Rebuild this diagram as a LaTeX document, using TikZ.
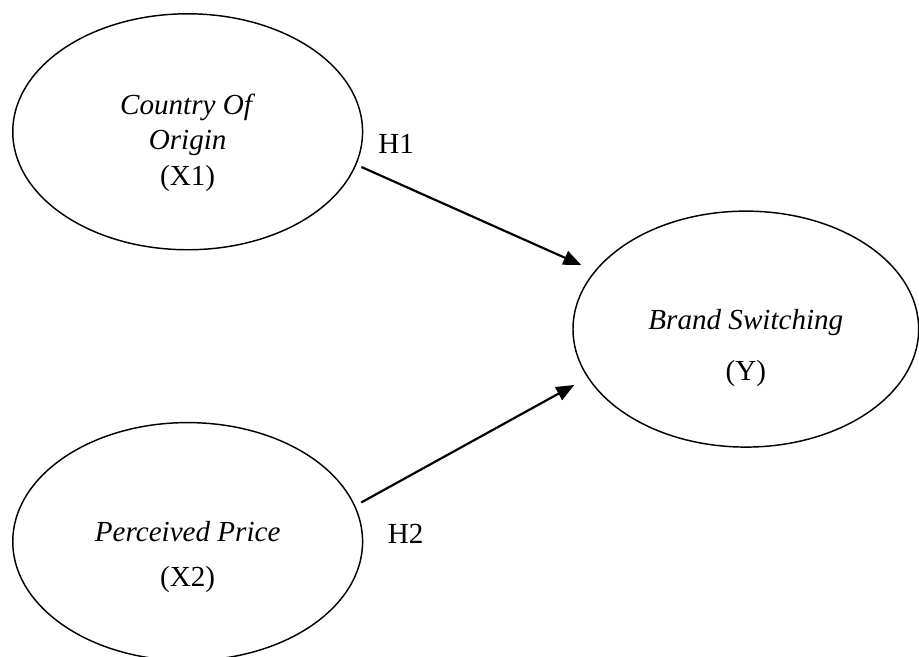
\documentclass[tikz,border=0pt]{standalone}
\usepackage{fontspec}
\setmainfont{Liberation Serif}
\usetikzlibrary{shapes.geometric,arrows.meta}
\begin{document}
\begin{tikzpicture}[var/.style={ellipse,draw,line width=0.6pt,inner sep=0pt,outer sep=0pt},
  txt/.style={align=center,font=\fontsize{12}{14.5}\selectfont},
  hyp/.style={line width=0.9pt,-{Triangle[length=0.26cm,width=0.21cm]}}]
\useasboundingbox (0,0) rectangle (13.32,9.52);
\node [var,minimum width=5.07cm,minimum height=3.42cm] (coo) at (2.72,7.61) {};
\node [var,minimum width=5.01cm,minimum height=3.42cm] (bsw) at (10.81,4.75) {};
\node [var,minimum width=5.07cm,minimum height=3.45cm] (pp) at (2.72,1.67) {};
\node [txt] (cootxt) at ([yshift=-0.16cm]coo.center) {\textit{Country Of}\\\textit{Origin}\\(X1)};
\node [txt] (bswtxt) at ([yshift=-0.27cm]bsw.center) {\textit{Brand Switching}\\[6.5pt](Y)};
\node [txt] (pptxt) at ([yshift=-0.22cm]pp.center) {\textit{Perceived Price}\\[4pt](X2)};
\draw [hyp,shorten <=0.09cm,shorten >=0.22cm] (coo.-11) -- (bsw.159);
\draw [hyp,shorten <=0.11cm,shorten >=0.23cm] (pp.12) -- (bsw.197);
\node [txt] (h1) at (5.74,7.43) {H1}; \node [txt] (h2) at (5.88,1.78) {H2};
\end{tikzpicture}
\end{document}
